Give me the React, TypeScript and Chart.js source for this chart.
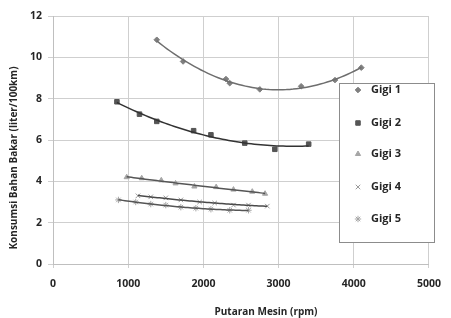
import React, { useEffect, useRef } from "react";
import { Chart, registerables } from "chart.js";
import { drawPoint } from "chart.js/helpers";

Chart.register(...registerables);

const seriesNames = ["Gigi 1", "Gigi 2", "Gigi 3", "Gigi 4", "Gigi 5"];

const rpm1 = [1380, 1730, 2300, 2350, 2750, 3300, 3750, 4100];
const gigi1 = [10.85, 9.8, 8.95, 8.75, 8.45, 8.6, 8.9, 9.5];

const rpm2 = [850, 1150, 1380, 1870, 2100, 2550, 2950, 3400];
const gigi2 = [7.85, 7.25, 6.9, 6.45, 6.25, 5.85, 5.55, 5.8];

const rpm3 = [980, 1180, 1440, 1630, 1880, 2170, 2400, 2650, 2820];
const gigi3 = [4.2, 4.15, 4.05, 3.9, 3.75, 3.72, 3.6, 3.5, 3.4];

const rpm4 = [1130, 1300, 1500, 1700, 1950, 2150, 2400, 2600, 2850];
const gigi4 = [3.3, 3.25, 3.2, 3.1, 3.0, 2.95, 2.85, 2.85, 2.8];

const rpm5 = [870, 1100, 1300, 1500, 1700, 1900, 2100, 2350, 2600];
const gigi5 = [3.1, 3.0, 2.9, 2.85, 2.75, 2.7, 2.65, 2.6, 2.6];

const xTicks = [0, 1000, 2000, 3000, 4000, 5000];
const yTicks = [0, 2, 4, 6, 8, 10, 12];

const xTitle = "Putaran Mesin (rpm)";
const yTitle = "Konsumsi Bahan Bakar (liter/100km)";

const markerStyles = ["rectRot", "rect", "triangle", "crossRot", "star"];
const markerColors = ["#7f7f7f", "#555555", "#a6a6a6", "#9a9a9a", "#a6a6a6"];
const markerRadius = [2.8, 3.2, 3, 3.2, 3.2];
const lineColors = ["#6e6e6e", "#333333", "#555555", "#4a4a4a", "#555555"];

const FONT = "'Open Sans', 'Noto Sans', sans-serif";

// Quadratic least-squares fit (like a spreadsheet polynomial trendline)
function quadFit(xs: number[], ys: number[]) {
  const n = xs.length;
  const X = xs.map((x) => x / 1000);
  let s0 = n, s1 = 0, s2 = 0, s3 = 0, s4 = 0, t0 = 0, t1 = 0, t2 = 0;
  for (let i = 0; i < n; i++) {
    const x = X[i], y = ys[i];
    s1 += x; s2 += x * x; s3 += x * x * x; s4 += x * x * x * x;
    t0 += y; t1 += x * y; t2 += x * x * y;
  }
  const M = [
    [s0, s1, s2, t0],
    [s1, s2, s3, t1],
    [s2, s3, s4, t2],
  ];
  for (let c = 0; c < 3; c++) {
    let p = c;
    for (let r = c + 1; r < 3; r++) if (Math.abs(M[r][c]) > Math.abs(M[p][c])) p = r;
    [M[c], M[p]] = [M[p], M[c]];
    for (let r = 0; r < 3; r++) {
      if (r === c) continue;
      const f = M[r][c] / M[c][c];
      for (let k = c; k < 4; k++) M[r][k] -= f * M[c][k];
    }
  }
  const a = M[0][3] / M[0][0], b = M[1][3] / M[1][1], cc = M[2][3] / M[2][2];
  return (x: number) => {
    const u = x / 1000;
    return a + b * u + cc * u * u;
  };
}

function trend(xs: number[], ys: number[]) {
  const f = quadFit(xs, ys);
  const lo = Math.min(...xs), hi = Math.max(...xs);
  const pts: { x: number; y: number }[] = [];
  const steps = 60;
  for (let i = 0; i <= steps; i++) {
    const x = lo + ((hi - lo) * i) / steps;
    pts.push({ x, y: f(x) });
  }
  return pts;
}

const allX = [rpm1, rpm2, rpm3, rpm4, rpm5];
const allY = [gigi1, gigi2, gigi3, gigi4, gigi5];

const overlayPlugin = {
  id: "overlay",
  afterDraw(chart: any) {
    const ctx = chart.ctx;
    ctx.save();
    ctx.fillStyle = "#262626";
    ctx.font = `bold 10px ${FONT}`;
    ctx.textAlign = "center";
    ctx.textBaseline = "middle";
    ctx.fillText(xTitle, 266, 312);
    ctx.save();
    ctx.translate(14, 158);
    ctx.rotate(-Math.PI / 2);
    ctx.fillText(yTitle, 0, 0);
    ctx.restore();

    const lx = 339, ly = 83, lw = 95, lh = 159;
    ctx.fillStyle = "#ffffff";
    ctx.fillRect(lx, ly, lw, lh);
    ctx.strokeStyle = "#8c8c8c";
    ctx.lineWidth = 1;
    ctx.strokeRect(lx + 0.5, ly + 0.5, lw, lh);
    const rows = [90, 123, 154, 187, 219];
    seriesNames.forEach((name, i) => {
      ctx.fillStyle = markerColors[i];
      ctx.strokeStyle = markerColors[i];
      ctx.lineWidth = 1;
      drawPoint(ctx, { pointStyle: markerStyles[i], radius: markerRadius[i], borderWidth: 1, rotation: 0 } as any, 358, rows[i]);
      ctx.fillStyle = "#262626";
      ctx.font = `bold 11px ${FONT}`;
      ctx.textAlign = "left";
      ctx.textBaseline = "middle";
      ctx.fillText(name, 371, rows[i]);
    });
    ctx.restore();
  },
};

export default function App() {
  const ref = useRef<HTMLCanvasElement | null>(null);
  useEffect(() => {
    document.body.style.margin = "0";
    const datasets: any[] = [];
    for (let i = 0; i < 5; i++) {
      datasets.push({
        label: seriesNames[i] + " trend",
        data: trend(allX[i], allY[i]),
        showLine: true,
        borderColor: lineColors[i],
        borderWidth: 1.5,
        pointRadius: 0,
        fill: false,
        tension: 0,
      });
    }
    for (let i = 0; i < 5; i++) {
      datasets.push({
        label: seriesNames[i],
        data: allX[i].map((x, k) => ({ x, y: allY[i][k] })),
        showLine: false,
        pointStyle: markerStyles[i],
        pointRadius: markerRadius[i],
        backgroundColor: markerColors[i],
        borderColor: markerColors[i],
        borderWidth: 1,
      });
    }
    const tickFont = { family: FONT, size: 10.5, weight: "bold" };
    const chart = new Chart(ref.current as HTMLCanvasElement, {
      type: "scatter",
      data: { datasets },
      options: {
        responsive: false,
        animation: false,
        layout: { padding: { top: 16, right: 9, left: 0, bottom: 0 } },
        plugins: { legend: { display: false }, tooltip: { enabled: false } },
        scales: {
          x: {
            type: "linear",
            min: 0,
            max: 5000,
            afterBuildTicks: (s: any) => {
              s.ticks = xTicks.map((v) => ({ value: v }));
            },
            afterFit: (s: any) => {
              s.height = 54;
            },
            grid: { color: "#cfcfcf", lineWidth: 1, tickLength: 4 },
            border: { color: "#bfbfbf" },
            ticks: {
              color: "#262626",
              font: tickFont,
              padding: 10,
              maxRotation: 0,
              callback: (v: any) => String(v),
            },
          },
          y: {
            type: "linear",
            min: 0,
            max: 12,
            afterBuildTicks: (s: any) => {
              s.ticks = yTicks.map((v) => ({ value: v }));
            },
            afterFit: (s: any) => {
              s.width = 53;
            },
            grid: { color: "#cfcfcf", lineWidth: 1, tickLength: 5 },
            border: { color: "#bfbfbf" },
            ticks: {
              color: "#262626",
              font: tickFont,
              padding: 6,
              callback: (v: any) => String(v),
            },
          },
        },
      },
      plugins: [overlayPlugin],
    } as any);
    return () => chart.destroy();
  }, []);
  return (
    <div style={{ position: "absolute", left: 0, top: 0, width: 451, height: 318 }}>
      <canvas ref={ref} width={451} height={318} />
    </div>
  );
}
